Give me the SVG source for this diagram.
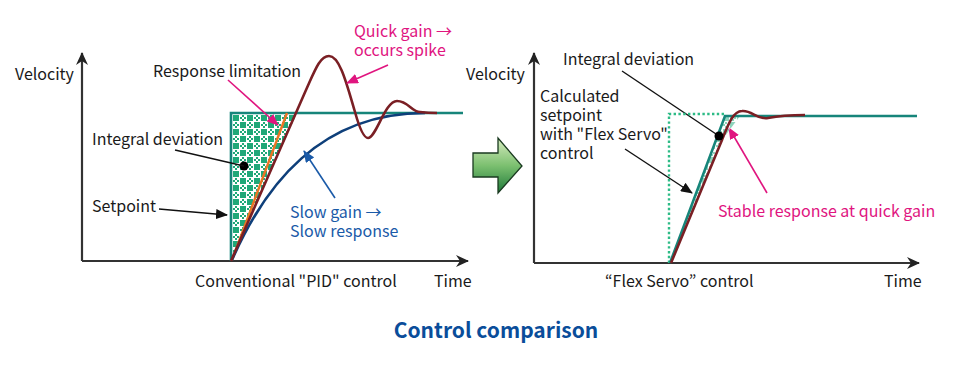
<svg xmlns="http://www.w3.org/2000/svg" width="960" height="381" viewBox="0 0 960 381">
<style>
text{font-family:"Noto Sans CJK JP","Noto Sans","Liberation Sans",sans-serif;font-size:16px;fill:#1a1a1a}
.pink{fill:#e0157f}
.blue{fill:#1a5aa8}
.title{font-size:21px;font-weight:bold;fill:#0a4d9a}
.axis{stroke:#333;stroke-width:2.2;fill:none}
.lead{stroke:#111;stroke-width:1.4;fill:none}
.leadp{stroke:#e0157f;stroke-width:1.6;fill:none}
.leadb{stroke:#1a5aa8;stroke-width:1.6;fill:none}
.teal{stroke:#16857a;stroke-width:2.6;fill:none}
.brown{stroke:#7a1f24;stroke-width:2.6;fill:none;stroke-linejoin:round}
</style>
<defs>
<marker id="ax" markerWidth="14" markerHeight="12" refX="12" refY="6" orient="auto" markerUnits="userSpaceOnUse"><path d="M0,0 L13,6 L0,12 L4,6 Z" fill="#222"/></marker>
<marker id="ak" markerWidth="12" markerHeight="10" refX="11" refY="5" orient="auto" markerUnits="userSpaceOnUse"><path d="M0,0 L12,5 L0,10 Z" fill="#111"/></marker>
<marker id="ap" markerWidth="12" markerHeight="10" refX="11" refY="5" orient="auto" markerUnits="userSpaceOnUse"><path d="M0,0 L12,5 L0,10 Z" fill="#e0157f"/></marker>
<marker id="ab" markerWidth="12" markerHeight="10" refX="11" refY="5" orient="auto" markerUnits="userSpaceOnUse"><path d="M0,0 L12,5 L0,10 Z" fill="#1a5aa8"/></marker>
<pattern id="chk" width="14" height="14" patternUnits="userSpaceOnUse" x="233" y="115">
<rect width="14" height="14" fill="#ffffff"/>
<rect x="0" y="0" width="6" height="6" fill="#1fa878"/>
<rect x="7" y="7" width="6" height="6" fill="#1fa878"/>
<rect x="9" y="0" width="2" height="2" fill="#1fa878"/>
<rect x="7" y="2" width="2" height="2" fill="#1fa878"/>
<rect x="11" y="2" width="2" height="2" fill="#1fa878"/>
<rect x="9" y="4" width="2" height="2" fill="#1fa878"/>
<rect x="2" y="7" width="2" height="2" fill="#1fa878"/>
<rect x="0" y="9" width="2" height="2" fill="#1fa878"/>
<rect x="4" y="9" width="2" height="2" fill="#1fa878"/>
<rect x="2" y="11" width="2" height="2" fill="#1fa878"/>
</pattern>
<linearGradient id="garrow" x1="0" y1="0" x2="0" y2="1">
<stop offset="0" stop-color="#d8ecc0"/>
<stop offset="0.5" stop-color="#7cc070"/>
<stop offset="1" stop-color="#1f7a3a"/>
</linearGradient>
</defs>

<g id="left-chart">
<g id="left-axes">
<path class="axis" d="M82,261 L82,53" marker-end="url(#ax)"/>
<path class="axis" d="M82,261 L468,261" marker-end="url(#ax)"/>
<text x="15" y="80">Velocity</text>
<text x="195" y="287">Conventional "PID" control</text>
<text x="434" y="287">Time</text>
</g>
<g id="left-deviation">
<polygon points="231,113 231,260 297,113" fill="url(#chk)"/>
</g>
<g id="left-setpoint">
<path class="teal" d="M231,261 L231,113 L463,113"/>
</g>
<g id="left-limit">
<path d="M232,260 L287,113" stroke="#ec7523" stroke-width="2.4" fill="none"/>
</g>
<g id="left-slow">
<path d="M232,260 C265,185 320,113 425,113" stroke="#0e3f7a" stroke-width="2.6" fill="none"/>
</g>
<g id="left-quick">
<path class="brown" d="M231,261 L306,90 C315,70 320,56 329,56 C340,56 347,85 355,112 C360,130 364,138 368,138 C376,138 385,101 397,101 C408,101 412,112 420,112 C428,113 432,113 437,113"/>
</g>
<circle cx="244" cy="166" r="4.5" fill="#000"/>
<g id="left-labels">
<text x="153" y="77">Response limitation</text>
<text x="354" y="37" class="pink">Quick gain →<tspan x="354" dy="19">occurs spike</tspan></text>
<text x="92" y="145">Integral deviation</text>
<text x="92" y="212">Setpoint</text>
<text x="290" y="218" class="blue">Slow gain →<tspan x="290" dy="19">Slow response</tspan></text>
</g>
</g>

<g id="connectors">
<path class="leadp" d="M228,80 L278,125" marker-end="url(#ap)"/>
<path class="leadp" d="M388,65 L347,83" marker-end="url(#ap)"/>
<path class="lead" d="M175,150 L244,166"/>
<path class="lead" d="M159,209 L227,215" marker-end="url(#ak)"/>
<path class="leadb" d="M335,198 L304,151" marker-end="url(#ab)"/>
<path class="lead" d="M622,71 L719,136"/>
<path class="lead" d="M625,149 L692,193" marker-end="url(#ak)"/>
<path class="leadp" d="M767,193 L729,128" marker-end="url(#ap)"/>
</g>

<g id="big-arrow">
<path d="M473,153 L498,153 L498,138 L522,166 L498,193 L498,177 L473,177 Z" fill="url(#garrow)" stroke="#1a3a20" stroke-width="1.3" stroke-linejoin="miter"/>
</g>

<g id="right-chart">
<g id="right-axes">
<path class="axis" d="M534,263 L534,53" marker-end="url(#ax)"/>
<path class="axis" d="M534,263 L919,263" marker-end="url(#ax)"/>
<text x="466" y="80">Velocity</text>
<text x="605" y="287">“Flex Servo” control</text>
<text x="884" y="287">Time</text>
</g>
<g id="right-deviation">
<polygon points="671,262 725,116 740,116 722,140" fill="url(#chk)" opacity="0.5"/>
</g>
<g id="right-setpoint">
<path d="M669,263 L669,114 L726,114" stroke="#2dbb86" stroke-width="2.4" stroke-dasharray="2.4,2.4" fill="none"/>
</g>
<g id="right-calc">
<path class="teal" d="M670,263 L725,116 L917,116"/>
</g>
<g id="right-response">
<path class="brown" d="M671,263 L722,140 C728,125 733,111 742,111 C752,110 757,120 768,118 C778,116 785,115 805,115"/>
</g>
<circle cx="719" cy="136" r="4.5" fill="#000"/>
<g id="right-labels">
<text x="563" y="65">Integral deviation</text>
<text x="540" y="102">Calculated<tspan x="540" dy="19">setpoint</tspan><tspan x="540" dy="19">with "Flex Servo"</tspan><tspan x="540" dy="19">control</tspan></text>
<text x="718" y="217" class="pink">Stable response at quick gain</text>
</g>
</g>

<g id="title">
<text x="496" y="338" text-anchor="middle" class="title">Control comparison</text>
</g>
</svg>
